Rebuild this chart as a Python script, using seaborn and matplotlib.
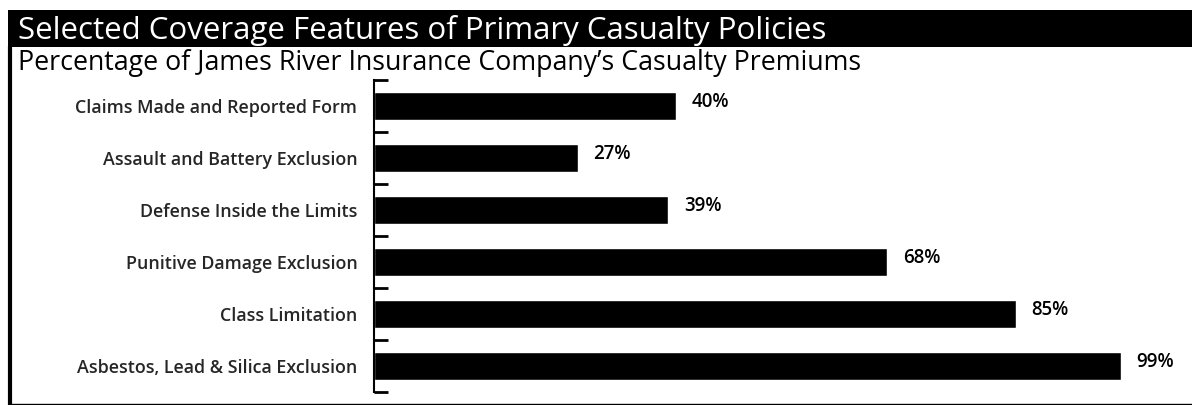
import matplotlib
matplotlib.use("Agg")
import matplotlib.pyplot as plt
import seaborn as sns
import pandas as pd
from matplotlib.patches import Rectangle
from matplotlib.lines import Line2D

categories = [
    "Claims Made and Reported Form",
    "Assault and Battery Exclusion",
    "Defense Inside the Limits",
    "Punitive Damage Exclusion",
    "Class Limitation",
    "Asbestos, Lead & Silica Exclusion",
]
values = [40, 27, 39, 68, 85, 99]
value_labels = ["40%", "27%", "39%", "68%", "85%", "99%"]
title = "Selected Coverage Features of Primary Casualty Policies"
subtitle = "Percentage of James River Insurance Company\u2019s Casualty Premiums"

sns.set_style("white")
plt.rcParams["font.family"] = ["Open Sans", "DejaVu Sans"]

W, H = 1192, 405
fig = plt.figure(figsize=(W / 100, H / 100), dpi=100)

# title bar
fig.patches.append(Rectangle((8 / W, 1 - 47 / H), 1 - 8 / W, 37 / H,
                             transform=fig.transFigure, facecolor="black",
                             edgecolor="none", zorder=0))
fig.text(18 / W, 1 - 31 / H, title, color="white", fontsize=22.5,
         va="center", ha="left")
fig.text(18 / W, 1 - 63 / H, subtitle, color="black", fontsize=19.3,
         va="center", ha="left")
# left border and bottom rule
fig.add_artist(Line2D([9.5 / W, 9.5 / W], [0, 1 - 46 / H], transform=fig.transFigure,
                      color="black", lw=3))
fig.add_artist(Line2D([9 / W, 1], [1.5 / H, 1.5 / H], transform=fig.transFigure,
                      color="black", lw=1.0))

ax_left = 374 / W
ax_top = 80 / H
ax_bottom = 392 / H
ax = fig.add_axes([ax_left, 1 - ax_bottom, 1 - ax_left, ax_bottom - ax_top])

df = pd.DataFrame({"feature": categories, "pct": values})
sns.barplot(data=df, x="pct", y="feature", orient="h", color="black",
            width=0.53, ax=ax, saturation=1)

px_per_pct = 7.55
ax.set_xlim(0, (W - 374) / px_per_pct)
ax.set_ylim(len(categories) - 0.5, -0.5)

for i, (v, lab) in enumerate(zip(values, value_labels)):
    ax.annotate(lab, (v, i), xytext=(11, 3), textcoords="offset points",
                va="center", ha="left", fontsize=13.5, color="black",
                fontweight="semibold")

for s in ["top", "right", "bottom"]:
    ax.spines[s].set_visible(False)
ax.spines["left"].set_linewidth(1.5)
ax.spines["left"].set_color("black")
ax.set_xticks([])
ax.set_xlabel("")
ax.set_ylabel("")
ax.set_yticks(range(len(categories)))
ax.set_yticklabels(categories, fontweight="semibold")
ax.tick_params(axis="y", which="major", left=False, length=0, pad=12,
               labelsize=12.9)
ax.set_yticks([i - 0.5 for i in range(len(categories) + 1)], minor=True)
ax.tick_params(axis="y", which="minor", left=True, direction="in", length=10,
               width=2, color="black")

fig.savefig("out.png", dpi=100)
